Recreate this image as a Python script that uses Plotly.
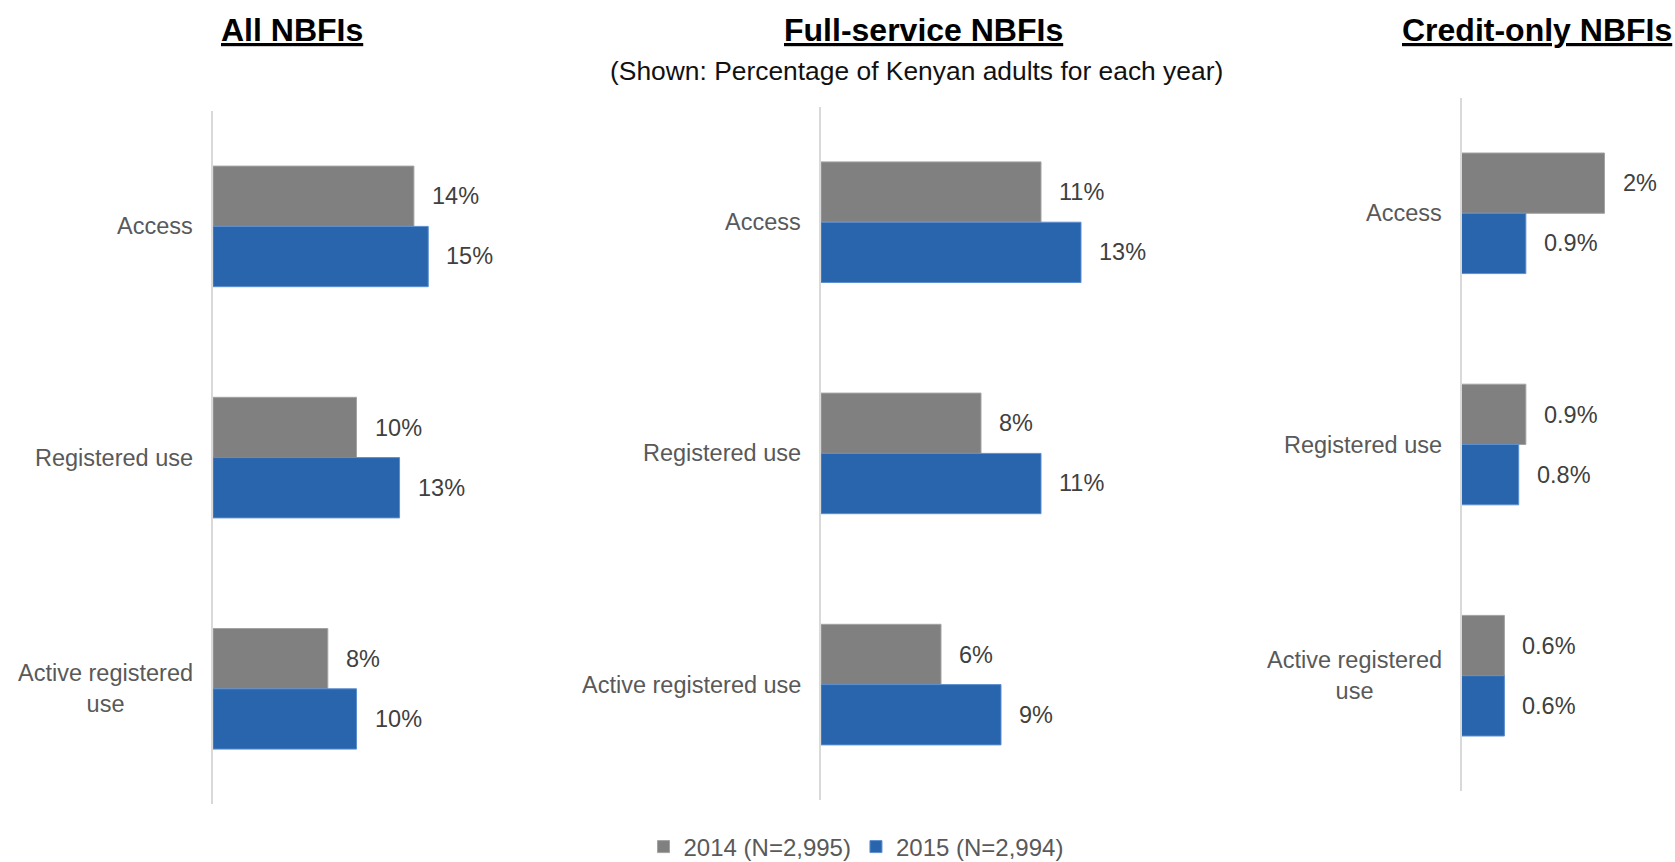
import plotly.graph_objects as go

# Indicators shown in each panel
categories = ["Access", "Registered use", "Active registered use"]
category_labels_wrapped = ["Access", "Registered use", "Active registered<br>use"]

years = ["2014 (N=2,995)", "2015 (N=2,994)"]

# Percentage of Kenyan adults for each year
all_2014 = [14, 10, 8]
all_2015 = [15, 13, 10]

full_2014 = [11, 8, 6]
full_2015 = [13, 11, 9]

credit_2014 = [2, 0.9, 0.6]
credit_2015 = [0.9, 0.8, 0.6]

panel_titles = ["All NBFIs", "Full-service NBFIs", "Credit-only NBFIs"]
subtitle = "(Shown: Percentage of Kenyan adults for each year)"

W, H = 1675, 862
GREY = "#808080"
BLUE = "#2865ac"
FONT = "Liberation Sans, Arial, sans-serif"


def px_x(p):
    return p / W


def px_y(p):
    return 1 - p / H


# panel geometry in pixels: (axis x, px per percent, x range max, top, bottom)
panels = [
    dict(ax=213, scale=14.35, rmax=20, top=110.8, bottom=804.4,
         v14=all_2014, v15=all_2015, labels=category_labels_wrapped,
         title_x=292),
    dict(ax=821, scale=20.0, rmax=15, top=106.6, bottom=800.2,
         v14=full_2014, v15=full_2015, labels=categories,
         title_x=924),
    dict(ax=1461.5, scale=71.5, rmax=2.6, top=97.7, bottom=791.3,
         v14=credit_2014, v15=credit_2015, labels=category_labels_wrapped,
         title_x=1537),
]

fig = go.Figure()
annotations = []

for i, p in enumerate(panels, start=1):
    xa = "x" if i == 1 else f"x{i}"
    ya = "y" if i == 1 else f"y{i}"
    for vals, name, color, line in [
        (p["v14"], years[0], GREY, "#a3a3a3"),
        (p["v15"], years[1], BLUE, "#5d8fcf"),
    ]:
        fig.add_trace(go.Bar(
            x=vals, y=categories, orientation="h", name=name,
            marker=dict(color=color, line=dict(color=line, width=1)),
            xaxis=xa, yaxis=ya, showlegend=(i == 1),
            legendgroup=name, hoverinfo="skip",
        ))
        # value labels to the right of each bar
        shift = 30 if name == years[0] else -30
        for v, c in zip(vals, categories):
            annotations.append(dict(
                x=v, y=c, xref=xa, yref=ya, text=f"{v:g}%",
                showarrow=False, xanchor="left", yanchor="middle",
                xshift=16, yshift=shift,
                font=dict(family=FONT, size=23.5, color="#404040"),
            ))
    # category labels left of the axis line
    for lab, c in zip(p["labels"], categories):
        annotations.append(dict(
            x=0, y=c, xref=xa, yref=ya, text=lab, showarrow=False,
            xanchor="right", yanchor="middle", xshift=-18, align="center",
            font=dict(family=FONT, size=23.5, color="#595959"),
        ))
    # panel title
    annotations.append(dict(
        x=px_x(p["title_x"]), y=px_y(30), xref="paper", yref="paper",
        text=f"<b>{panel_titles[i - 1]}</b>", showarrow=False,
        xanchor="center", yanchor="middle",
        font=dict(family=FONT, size=32, color="#000000", lineposition="under"),
    ))

    x_end = p["ax"] + p["scale"] * p["rmax"]
    fig.layout[f"xaxis{'' if i == 1 else i}"] = dict(
        domain=[px_x(p["ax"]), px_x(x_end)], range=[0, p["rmax"]],
        showgrid=False, zeroline=False, showticklabels=False,
        showline=False, ticks="", anchor=ya, fixedrange=True,
    )
    fig.layout[f"yaxis{'' if i == 1 else i}"] = dict(
        domain=[px_y(p["bottom"]), px_y(p["top"])],
        type="category", categoryorder="array", categoryarray=categories,
        autorange="reversed", showgrid=False, zeroline=False,
        showticklabels=False, ticks="", showline=True,
        linecolor="#d9d9d9", linewidth=2, anchor=xa, fixedrange=True,
    )

annotations.append(dict(
    x=px_x(917), y=px_y(70.5), xref="paper", yref="paper", text=subtitle,
    showarrow=False, xanchor="center", yanchor="middle",
    font=dict(family=FONT, size=26.4, color="#111111"),
))

fig.update_layout(
    width=W, height=H,
    margin=dict(l=0, r=0, t=0, b=0, autoexpand=False),
    paper_bgcolor="white", plot_bgcolor="white",
    barmode="group", bargap=0.4784, bargroupgap=0,
    annotations=annotations,
    showlegend=True,
    legend=dict(
        orientation="h", x=px_x(856), xanchor="center",
        y=px_y(847), yanchor="middle",
        font=dict(family=FONT, size=24, color="#595959"),
        itemclick=False, itemdoubleclick=False,
        bgcolor="rgba(0,0,0,0)",
    ),
    font=dict(family=FONT),
)

fig.write_html("out.html", config={"displayModeBar": False})
